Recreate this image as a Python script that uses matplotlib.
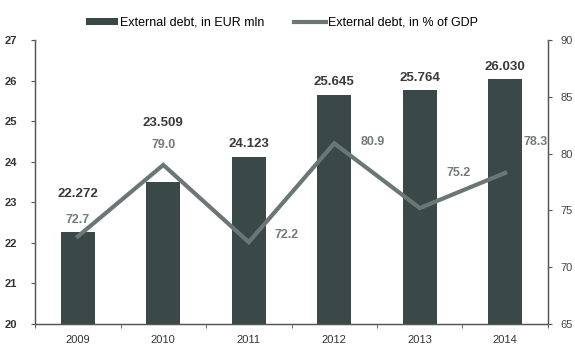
import matplotlib.pyplot as plt
import numpy as np

plt.rcParams['font.family'] = ['Liberation Sans', 'DejaVu Sans']

years = ['2009', '2010', '2011', '2012', '2013', '2014']
debt_eur = [22.272, 23.509, 24.123, 25.645, 25.764, 26.030]
debt_gdp = [72.7, 79.0, 72.2, 80.9, 75.2, 78.3]

bar_labels = ['22.272', '23.509', '24.123', '25.645', '25.764', '26.030']
gdp_labels = ['72.7', '79.0', '72.2', '80.9', '75.2', '78.3']

bar_color = '#3b4848'
line_color = '#6b7676'
axis_color = '#555555'

fig = plt.figure(figsize=(5.75, 3.54), dpi=100)
ax = fig.add_axes([0.061, 0.085, 0.892, 0.802])
ax2 = ax.twinx()

x = np.arange(len(years))
bars = ax.bar(x, debt_eur, width=0.4, color=bar_color, label='External debt, in EUR mln', zorder=2)
line, = ax2.plot(x, debt_gdp, color=line_color, lw=3, label='External debt, in % of GDP',
                 solid_joinstyle='miter')

ax.set_xlim(-0.5, 5.5)
ax.set_ylim(20, 27)
ax2.set_ylim(65, 90)
ax.set_yticks(range(20, 28))
ax2.set_yticks(range(65, 91, 5))

ax.set_xticks(x)
ax.set_xticklabels(years)
ax.set_xticks(np.arange(-0.5, 5.6, 1), minor=True)
ax.tick_params(axis='x', which='major', length=0, pad=8, labelsize=8, colors='#333333')
ax.tick_params(axis='x', which='minor', length=3, color=axis_color)
ax.tick_params(axis='y', length=3, pad=10, labelsize=8, colors='#333333', color=axis_color)
ax2.tick_params(axis='y', length=3, pad=6, labelsize=8, colors='#444444', color=axis_color)
for lbl in ax.get_yticklabels():
    lbl.set_fontweight('bold')

for a in (ax, ax2):
    a.spines['top'].set_visible(False)
    for s in ('left', 'right', 'bottom'):
        a.spines[s].set_color(axis_color)
        a.spines[s].set_linewidth(0.9)

# labels for the bars (offsets in points, raised where the line labels sit)
bar_offsets = [27, 42, 9, 9, 9, 9]
for xi, v, txt, off in zip(x, debt_eur, bar_labels, bar_offsets):
    ax.annotate(txt, (xi, v), xytext=(0, off), textcoords='offset points',
                ha='center', va='center', fontsize=9.5, fontweight='bold', color='#3a3a3a')

# labels for the line
gdp_offsets = [(0, 12), (0, 14), (27, 5), (28, 1), (28, 25), (22, 22)]
for xi, v, txt, off in zip(x, debt_gdp, gdp_labels, gdp_offsets):
    ax2.annotate(txt, (xi, v), xytext=off, textcoords='offset points',
                 ha='center', va='center', fontsize=9, fontweight='bold',
                 color='#747b7b', zorder=5)

fig.legend(handles=[bars, line], loc='upper center', bbox_to_anchor=(0.49, 0.985), ncol=2,
           frameon=False, fontsize=9, handlelength=2.6, handletextpad=0.1,
           columnspacing=2.4, handleheight=0.5)

fig.savefig('out.png', dpi=100)
